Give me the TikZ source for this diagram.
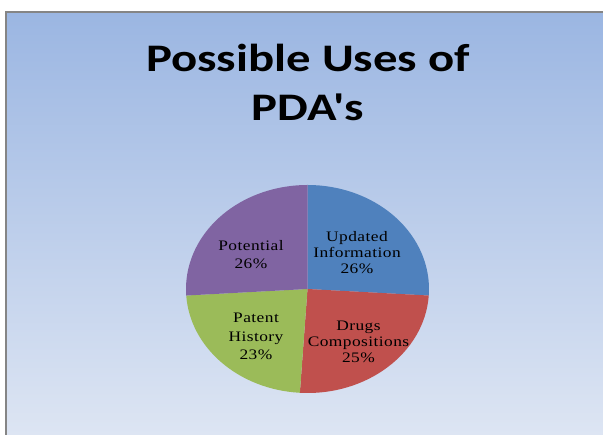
\documentclass[tikz,border=0pt]{standalone}
\usepackage{fontspec}
\setmainfont{Liberation Serif}
\newfontfamily\titlefont[FakeStretch=1.25]{Carlito}
\newfontfamily\labelfont[FakeStretch=1.2,LetterSpace=3]{Liberation Serif}
\definecolor{bgtop}{HTML}{9BB6E2}
\definecolor{bgbot}{HTML}{DDE5F3}
\definecolor{frame}{HTML}{858585}
\definecolor{pblue}{HTML}{4F81BD}
\definecolor{pred}{HTML}{C0504D}
\definecolor{pgreen}{HTML}{9BBB59}
\definecolor{ppurple}{HTML}{8064A2}
\tikzset{
  titletext/.style={font=\titlefont\bfseries\fontsize{39}{49}\selectfont, align=center, anchor=base, inner sep=0pt},
  lbl/.style={font=\labelfont\fontsize{14.5}{16}\selectfont, align=center, anchor=base, inner sep=0pt},
  lblwide/.style={font=\labelfont\fontsize{14.5}{18.5}\selectfont, align=center, anchor=base, inner sep=0pt},
}
\begin{document}
\begin{tikzpicture}[x=1pt,y=1pt]
\useasboundingbox (0,0) rectangle (603,435);
\fill[white] (0,0) rectangle (603,435);
\shade[top color=bgtop, bottom color=bgbot] (6,423) rectangle (603,0);
\draw[frame, line width=1.7] (6,0) -- (6,423) -- (603,423);
% title
\node[titletext] (t1) at (308,363) {Possible Uses of};
\node[titletext] (t2) at (308,314) {PDA's};
% pie
\coordinate (c) at (307.5,146);
\fill[pblue] (c) -- +(90:121.5 and 104) arc[start angle=90, end angle=-3.6, x radius=121.5, y radius=104] -- cycle;
\fill[pred] (c) -- +(-3.6:121.5 and 104) arc[start angle=-3.6, end angle=-93.6, x radius=121.5, y radius=104] -- cycle;
\fill[pgreen] (c) -- +(-93.6:121.5 and 104) arc[start angle=-93.6, end angle=-176.4, x radius=121.5, y radius=104] -- cycle;
\fill[ppurple] (c) -- +(-176.4:121.5 and 104) arc[start angle=-176.4, end angle=-270, x radius=121.5, y radius=104] -- cycle;
% labels (anchor = baseline of last line)
\node[lbl] (lu) at (357,161) {Updated\\Information\\26\%};
\node[lbl] (ld) at (358.5,72) {Drugs\\Compositions\\25\%};
\node[lblwide] (lp) at (251,166) {Potential\\26\%};
\node[lblwide] (lh) at (256,75) {Patent\\History\\23\%};
\end{tikzpicture}
\end{document}
